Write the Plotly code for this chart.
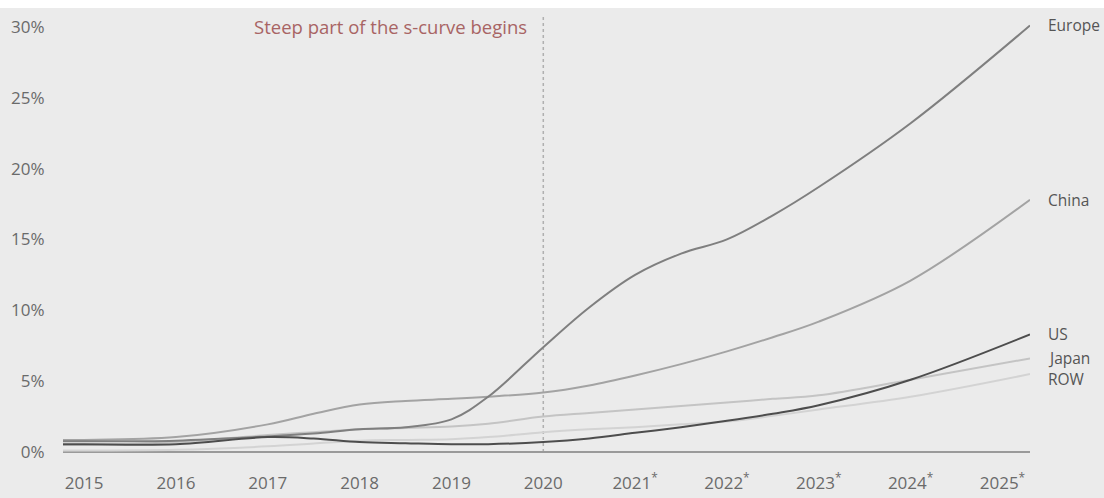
import plotly.graph_objects as go

# x positions (years); the lines run slightly beyond 2015 and 2025
x_years = [2014.77, 2015, 2016, 2017, 2017.5, 2018, 2018.5, 2019, 2019.4, 2020,
           2020.5, 2021, 2021.5, 2022, 2022.5, 2023, 2024, 2025.3]

europe = [0.75, 0.75, 0.8, 1.1, 1.3, 1.6, 1.75, 2.3, 3.9, 7.4,
          10.2, 12.5, 14.0, 15.0, 16.7, 18.7, 23.2, 30.1]
china = [0.85, 0.85, 1.05, 1.95, 2.7, 3.35, 3.6, 3.75, 3.9, 4.2,
         4.7, 5.4, 6.2, 7.1, 8.1, 9.2, 12.1, 17.8]
us = [0.55, 0.55, 0.55, 1.05, 0.95, 0.7, 0.62, 0.55, 0.55, 0.7,
      0.95, 1.35, 1.75, 2.2, 2.7, 3.3, 5.1, 8.3]
japan = [0.5, 0.5, 0.7, 1.2, 1.4, 1.6, 1.7, 1.8, 2.0, 2.5,
         2.75, 3.0, 3.25, 3.5, 3.75, 4.0, 5.1, 6.6]
row = [0.1, 0.1, 0.15, 0.4, 0.6, 0.8, 0.85, 0.9, 1.05, 1.4,
       1.6, 1.75, 1.95, 2.15, 2.55, 3.0, 3.9, 5.5]

series_names = ["Europe", "China", "US", "Japan", "ROW"]
series_values = [europe, china, us, japan, row]
series_colors = ["#7f7f7f", "#a3a3a3", "#4d4d4d", "#c4c4c4", "#d3d3d3"]
label_yshift = [0, 0, 0, 0, -5]

tick_years = [2015, 2016, 2017, 2018, 2019, 2020, 2021, 2022, 2023, 2024, 2025]
tick_labels = ["2015", "2016", "2017", "2018", "2019", "2020",
               "2021<sup>*</sup>", "2022<sup>*</sup>", "2023<sup>*</sup>",
               "2024<sup>*</sup>", "2025<sup>*</sup>"]
y_ticks = [0, 5, 10, 15, 20, 25, 30]
y_labels = ["0%", "5%", "10%", "15%", "20%", "25%", "30%"]

FONT = "Open Sans, DejaVu Sans, sans-serif"
BG = "#ebebeb"

fig = go.Figure()
# draw lighter lines first so darker ones are on top
order = [4, 3, 1, 0, 2]
for i in order:
    fig.add_trace(go.Scatter(
        x=x_years, y=series_values[i], mode="lines", name=series_names[i],
        line=dict(color=series_colors[i], width=2, shape="spline", smoothing=1.0),
        hoverinfo="skip", showlegend=False))

for i, name in enumerate(series_names):
    fig.add_annotation(x=x_years[-1], y=series_values[i][-1], text=name,
                       xanchor="left", yanchor="middle", xshift=16,
                       yshift=label_yshift[i], showarrow=False,
                       font=dict(family=FONT, size=15.5, color="#555555"))

fig.add_shape(type="line", xref="x", yref="y", x0=2020, x1=2020, y0=0, y1=30.84,
              line=dict(color="#b0b0b0", width=1.5, dash="dot"), layer="below")

fig.add_annotation(x=2020, y=30.0, text="Steep part of the s-curve begins",
                   xanchor="right", yanchor="middle", xshift=-14, showarrow=False,
                   font=dict(family=FONT, size=18.5, color="#a86464"))

# white strip at the very top of the image
fig.add_shape(type="rect", xref="paper", yref="paper", x0=-0.1, x1=1.1,
              y0=1 + 7 / 445, y1=1 + 15 / 445, fillcolor="white",
              line=dict(width=0), layer="above")

fig.update_layout(
    width=1104, height=498,
    margin=dict(l=63, r=74, t=15, b=38, autoexpand=False),
    paper_bgcolor=BG, plot_bgcolor=BG,
    font=dict(family=FONT, size=17, color="#6a6a6a"),
    xaxis=dict(range=[2014.77, 2025.3], tickvals=tick_years, ticktext=tick_labels,
               showgrid=False, zeroline=False, showline=False, automargin=False,
               ticks="outside", ticklen=8, tickcolor="rgba(0,0,0,0)",
               tickfont=dict(family=FONT, size=17, color="#6a6a6a")),
    yaxis=dict(range=[-0.565, 30.84], tickvals=y_ticks, ticktext=y_labels,
               showgrid=False, zeroline=True, zerolinecolor="#9a9a9a",
               zerolinewidth=2, showline=False, automargin=False,
               ticks="outside", ticklen=14, tickcolor="rgba(0,0,0,0)",
               tickfont=dict(family=FONT, size=17, color="#6a6a6a")),
)

fig.write_html("out.html")
